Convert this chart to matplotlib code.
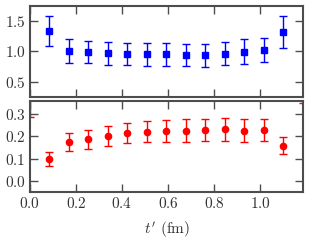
import numpy as np
import matplotlib
matplotlib.use("Agg")
import matplotlib.pyplot as plt

plt.rcParams['font.family'] = 'serif'
plt.rcParams['font.serif'] = ['cmr10']
plt.rcParams['mathtext.fontset'] = 'cm'
plt.rcParams['axes.formatter.use_mathtext'] = True

# lattice spacing (fm), points sit at k * a
a = 0.0846

# upper panel (blue squares), k = 1..13
k_top = [1, 2, 3, 4, 5, 6, 7, 8, 9, 10, 11, 12, 13]
top_val = [1.333, 1.005, 0.99, 0.967, 0.956, 0.95, 0.95, 0.94, 0.93, 0.956, 0.994, 1.016, 1.316]
top_err = [0.25, 0.19, 0.185, 0.187, 0.185, 0.19, 0.19, 0.185, 0.19, 0.19, 0.2, 0.2, 0.256]

# lower panel (red circles), k = 0..14 (end points mostly off-scale)
k_bot = [0, 1, 2, 3, 4, 5, 6, 7, 8, 9, 10, 11, 12, 13, 14]
bot_val = [0.45, 0.100, 0.174, 0.186, 0.200, 0.213, 0.220, 0.225, 0.226, 0.228, 0.231, 0.226, 0.228, 0.159, 0.60]
bot_err = [0.163, 0.032, 0.040, 0.042, 0.045, 0.045, 0.047, 0.050, 0.050, 0.050, 0.050, 0.050, 0.050, 0.038, 0.253]

edge = '0.3'

fig = plt.figure(figsize=(3.09, 2.45), dpi=100)
ax1 = fig.add_axes([0.097, 0.605, 0.884, 0.3705])
ax2 = fig.add_axes([0.097, 0.215, 0.884, 0.373])

ax1.errorbar(np.array(k_top) * a, top_val, yerr=top_err, fmt='s', color='#0000ff',
             ms=4.5, capsize=3.2, elinewidth=1.0, capthick=1.0)
ax2.errorbar(np.array(k_bot) * a, bot_val, yerr=bot_err, fmt='o', color='#ff0000',
             ms=4.5, capsize=3.2, elinewidth=1.0, capthick=1.0)

for ax in (ax1, ax2):
    ax.set_xlim(0, 1.187)
    ax.set_xticks([0.0, 0.2, 0.4, 0.6, 0.8, 1.0])
    ax.tick_params(direction='in', top=True, right=True, length=6, width=1,
                   color=edge, labelcolor='0.2', labelsize=11, pad=3)
    for s in ax.spines.values():
        s.set_color(edge)
        s.set_linewidth(1.5)
        s.set_zorder(5)

ax1.set_ylim(0.254, 1.74)
ax1.set_yticks([0.5, 1.0, 1.5])
ax1.set_xticklabels([])

ax2.set_ylim(-0.05, 0.358)
ax2.set_yticks([0.0, 0.1, 0.2, 0.3])
ax2.set_xlabel(r"$t'$ (fm)", fontsize=11, color='0.2', labelpad=6)

fig.savefig('out.png', dpi=100)
